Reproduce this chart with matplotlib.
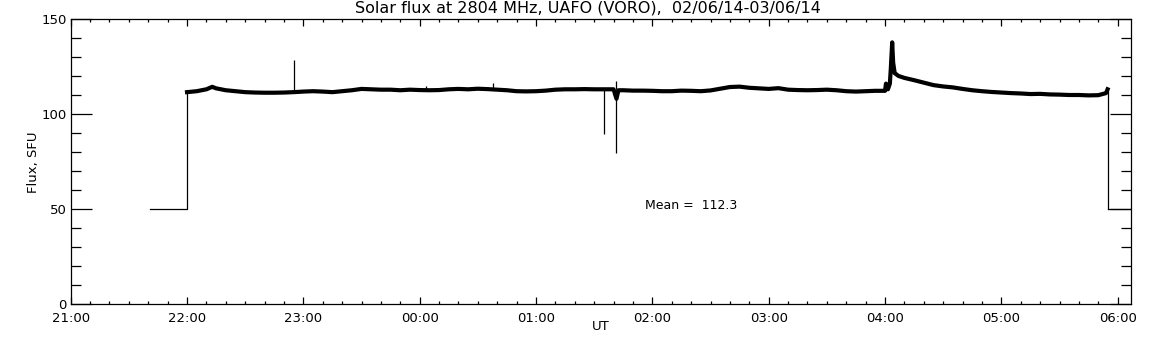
import numpy as np
import matplotlib
matplotlib.use('Agg')
import matplotlib.pyplot as plt
from matplotlib.ticker import MultipleLocator

# Data (time in minutes after 21:00 UT, flux in SFU)
gap_t = [41, 60]
gap_v = [50, 50]
end_t = [534.8, 547]
end_v = [50, 50]

flux_t = [60, 65, 70, 73, 75, 80, 85, 90, 95, 100, 105, 110, 115,
          120, 125, 130, 135, 140, 145, 150, 155, 160, 165, 170, 175, 180, 185, 190,
          195, 200, 205, 210, 215, 220, 225, 230, 235, 240, 245,
          250, 255, 260, 265, 270, 275, 280, 281.5, 282.5, 285, 290, 295, 300, 305, 310,
          315, 320, 325, 330, 335, 340,
          345, 350, 355, 360, 365, 370, 375, 380, 385, 390, 395,
          400, 405, 410, 415,
          420, 420.5, 421.5, 422.5, 423, 423.7, 424.2, 425, 427, 430, 435, 440,
          445, 450, 455, 460, 465, 470, 475, 480, 485, 490, 495, 500,
          505, 510, 515, 520, 525, 530, 534, 534.8]
flux_v = [111.5, 112.0, 113.0, 114.3, 113.5, 112.5, 112.0, 111.5, 111.3, 111.2, 111.2, 111.3, 111.5,
          111.8, 112.0, 111.8, 111.5, 112.0, 112.5, 113.2, 113.0, 112.8, 112.8, 112.5, 112.8, 112.6, 112.5, 112.6,
          113.0, 113.2, 113.0, 113.3, 113.1, 112.8, 112.5, 112.0, 111.9, 112.0, 112.3,
          112.8, 113.0, 113.0, 113.1, 113.0, 113.0, 113.0, 108.0, 112.5, 112.5, 112.3, 112.3, 112.2, 112.0, 112.0,
          112.3, 112.2, 112.0, 112.4, 113.3, 114.2,
          114.4, 113.8, 113.5, 113.2, 113.6, 112.8, 112.6, 112.5, 112.6, 112.8, 112.5,
          112.0, 111.8, 112.0, 112.2,
          112.2, 116.0, 113.0, 116.0, 124.0, 137.7, 127.0, 121.5, 120.0, 119.0, 117.8, 116.5,
          115.2, 114.5, 114.0, 113.2, 112.5, 112.0, 111.6, 111.3, 111.0, 110.8, 110.5, 110.6,
          110.3, 110.2, 110.0, 110.0, 109.8, 109.9, 111.0, 113.0]

spike_t = [115, 218, 275.1, 281.2, 281.2, 183]
spike_lo = [111.5, 113.0, 89.5, 79.5, 113.0, 112.8]
spike_hi = [128.4, 116.5, 113.0, 113.0, 117.5, 114.5]

mean_flux = 112.3
hour_labels = ['21:00', '22:00', '23:00', '00:00', '01:00', '02:00',
               '03:00', '04:00', '05:00', '06:00']

plt.rcParams['font.family'] = 'DejaVu Sans'
plt.rcParams['font.size'] = 9.5

fig = plt.figure(figsize=(11.52, 3.45), dpi=100)
ax = fig.add_axes([70.7 / 1152, 41 / 345, 1060.6 / 1152, 285 / 345])

th = lambda t: np.array(t) / 60.0
ax.plot(th(gap_t + [60]), gap_v + [flux_v[0]], color='k', lw=0.9)
ax.plot([th(flux_t[-1]), th(end_t[0])], [flux_v[-1], 50], color='k', lw=0.9)
ax.plot(th(end_t), end_v, color='k', lw=0.9)
ax.plot(th(flux_t), flux_v, color='k', lw=3.0, solid_joinstyle='round')
ax.vlines(th(spike_t), spike_lo, spike_hi, color='k', lw=0.9)

ax.text(th(296.2), 52, 'Mean =  %.1f' % mean_flux, fontsize=9, va='center', ha='left')

ax.set_xlim(0, 1060.6 / 116.33)
ax.set_ylim(0, 150)
ax.set_xticks(range(10))
ax.set_xticklabels(hour_labels)
ax.xaxis.set_minor_locator(MultipleLocator(1 / 6))
ax.set_yticks([0, 50, 100, 150])
ax.yaxis.set_minor_locator(MultipleLocator(10))

for s in ax.spines.values():
    s.set_linewidth(0.9)
ax.tick_params(axis='x', which='major', direction='in', length=5, width=0.9,
               top=True, bottom=True, pad=6)
ax.tick_params(axis='x', which='minor', direction='in', length=2.5, width=0.9,
               top=True, bottom=True)
ax.tick_params(axis='y', which='major', direction='in', length=15, width=0.9,
               left=True, right=True, pad=3)
ax.tick_params(axis='y', which='minor', direction='in', length=7.5, width=0.9,
               left=True, right=True)

fig.text(587.5 / 1152, 1 - 8 / 345, 'Solar flux at 2804 MHz, UAFO (VORO),  02/06/14-03/06/14',
         ha='center', va='center', fontsize=11.5)
fig.text(601 / 1152, 1 - 327 / 345, 'UT', ha='center', va='center', fontsize=9.5)
fig.text(33 / 1152, 1 - 162 / 345, 'Flux, SFU', ha='center', va='center',
         rotation=90, fontsize=9.5)

fig.savefig('out.png', dpi=100, facecolor='white')
